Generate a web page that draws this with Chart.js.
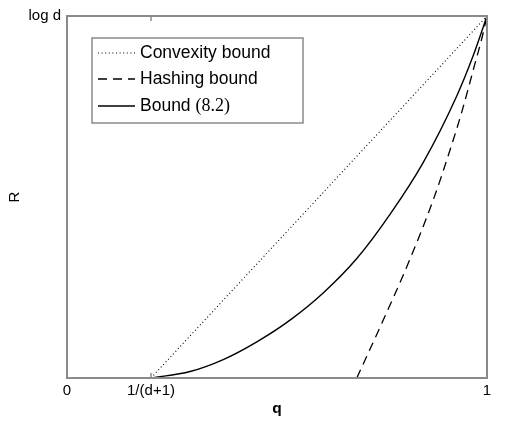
<!DOCTYPE html>
<html lang="en">
<head>
    <meta charset="UTF-8">
    <title>Bounds on R</title>
    <script src="https://cdn.jsdelivr.net/npm/chart.js"></script>
    <style>
        html, body { margin: 0; padding: 0; background: #fff; }
        #wrap { width: 505px; height: 426px; }
    </style>
</head>
<body>
    <div id="wrap"><canvas id="boundChart" width="505" height="426"></canvas></div>

    <script>
        // values (q on [0,1], R as a fraction of log d)
        const xTicks = [0, 0.2, 1];
        const xTickLabels = ['0', '1/(d+1)', '1'];
        const yTicks = [0, 1];
        const yTickLabels = ['', 'log d'];

        const convexQ = [0.2, 1];
        const convexR = [0, 1];

        const hashQ = [0.69, 0.753, 0.81, 0.872, 0.912, 0.94, 0.971, 0.987, 1];
        const hashR = [0, 0.16, 0.31, 0.492, 0.63, 0.735, 0.867, 0.935, 1];

        const boundQ = [0.2, 0.293, 0.372, 0.452, 0.531, 0.61, 0.69, 0.769, 0.848, 0.928, 0.967, 1];
        const boundR = [0, 0.018, 0.051, 0.1, 0.16, 0.235, 0.33, 0.452, 0.595, 0.779, 0.89, 1];

        function pts(xs, ys) {
            return xs.map((x, i) => ({ x: x, y: ys[i] }));
        }

        const frameColor = '#8a8a8a';

        // box round the plot, inward ticks and the legend inside the plot
        const framePlugin = {
            id: 'frame',
            afterDatasetsDraw(chart) {
                const ctx = chart.ctx;
                const a = chart.chartArea;
                const xs = chart.scales.x;
                ctx.save();
                ctx.strokeStyle = frameColor;
                ctx.lineWidth = 2;
                ctx.setLineDash([]);
                ctx.strokeRect(a.left, a.top, a.right - a.left, a.bottom - a.top);

                ctx.lineWidth = 1.5;
                xTicks.forEach(v => {
                    const px = xs.getPixelForValue(v);
                    ctx.beginPath();
                    ctx.moveTo(px, a.bottom);
                    ctx.lineTo(px, a.bottom - 5);
                    ctx.moveTo(px, a.top);
                    ctx.lineTo(px, a.top + 5);
                    ctx.stroke();
                });

                // legend
                const lx = a.left + 25, ly = a.top + 22, lw = 211, lh = 85;
                ctx.fillStyle = '#fff';
                ctx.fillRect(lx, ly, lw, lh);
                ctx.lineWidth = 1.5;
                ctx.strokeStyle = frameColor;
                ctx.strokeRect(lx, ly, lw, lh);

                const rowY = [15, 41, 68];
                chart.data.datasets.forEach((ds, i) => {
                    const y = ly + rowY[i];
                    ctx.beginPath();
                    ctx.strokeStyle = ds.borderColor;
                    ctx.lineWidth = ds.borderWidth;
                    ctx.setLineDash(ds.borderDash || []);
                    ctx.moveTo(lx + 6, y);
                    ctx.lineTo(lx + 43, y);
                    ctx.stroke();
                    ctx.setLineDash([]);

                    ctx.fillStyle = '#000';
                    ctx.textBaseline = 'middle';
                    ctx.textAlign = 'left';
                    ctx.font = '17.5px "Liberation Sans", Arial, sans-serif';
                    ctx.fillText(ds.label, lx + 48, y);
                    if (ds.labelRef) {
                        const w = ctx.measureText(ds.label + ' ').width;
                        ctx.font = '18px "Liberation Serif", "Times New Roman", serif';
                        ctx.fillText(ds.labelRef, lx + 48 + w, y);
                    }
                });
                ctx.restore();
            }
        };

        document.addEventListener('DOMContentLoaded', function () {
            const ctx = document.getElementById('boundChart').getContext('2d');
            new Chart(ctx, {
                type: 'scatter',
                data: {
                    datasets: [
                        {
                            label: 'Convexity bound',
                            data: pts(convexQ, convexR),
                            showLine: true,
                            borderColor: '#000',
                            borderWidth: 1.1,
                            borderDash: [1, 2.6],
                            pointRadius: 0
                        },
                        {
                            label: 'Hashing bound',
                            data: pts(hashQ, hashR),
                            showLine: true,
                            borderColor: '#000',
                            borderWidth: 1.3,
                            borderDash: [9, 6],
                            pointRadius: 0,
                            cubicInterpolationMode: 'monotone'
                        },
                        {
                            label: 'Bound',
                            labelRef: '(8.2)',
                            data: pts(boundQ, boundR),
                            showLine: true,
                            borderColor: '#000',
                            borderWidth: 1.4,
                            pointRadius: 0,
                            cubicInterpolationMode: 'monotone'
                        }
                    ]
                },
                options: {
                    responsive: false,
                    animation: false,
                    layout: { padding: { top: 16, right: 18, left: 0, bottom: 0 } },
                    plugins: {
                        legend: { display: false },
                        tooltip: { enabled: false }
                    },
                    scales: {
                        x: {
                            type: 'linear',
                            min: 0,
                            max: 1,
                            grid: { display: false, tickLength: 0 },
                            border: { display: false },
                            afterBuildTicks: s => { s.ticks = xTicks.map(v => ({ value: v })); },
                            afterFit: s => { s.height = 48; },
                            ticks: {
                                autoSkip: false,
                                maxRotation: 0,
                                padding: 4,
                                color: '#000',
                                font: { family: '"Liberation Sans", Arial, sans-serif', size: 15 },
                                callback: (v) => xTickLabels[xTicks.indexOf(v)]
                            },
                            title: {
                                display: true,
                                text: 'q',
                                color: '#000',
                                padding: { top: 0, bottom: 8 },
                                font: { family: '"Liberation Sans", Arial, sans-serif', size: 15.5, weight: 'bold' }
                            }
                        },
                        y: {
                            type: 'linear',
                            min: 0,
                            max: 1,
                            grid: { display: false, tickLength: 0 },
                            border: { display: false },
                            afterBuildTicks: s => { s.ticks = yTicks.map(v => ({ value: v })); },
                            afterFit: s => { s.width = 67; },
                            ticks: {
                                padding: 6,
                                color: '#000',
                                font: { family: '"Liberation Sans", Arial, sans-serif', size: 15 },
                                callback: (v) => yTickLabels[yTicks.indexOf(v)]
                            },
                            title: {
                                display: true,
                                text: 'R',
                                color: '#000',
                                padding: { top: 6, bottom: 0 },
                                font: { family: '"Liberation Sans", Arial, sans-serif', size: 15 }
                            }
                        }
                    }
                },
                plugins: [framePlugin]
            });
        });
    </script>
</body>
</html>
